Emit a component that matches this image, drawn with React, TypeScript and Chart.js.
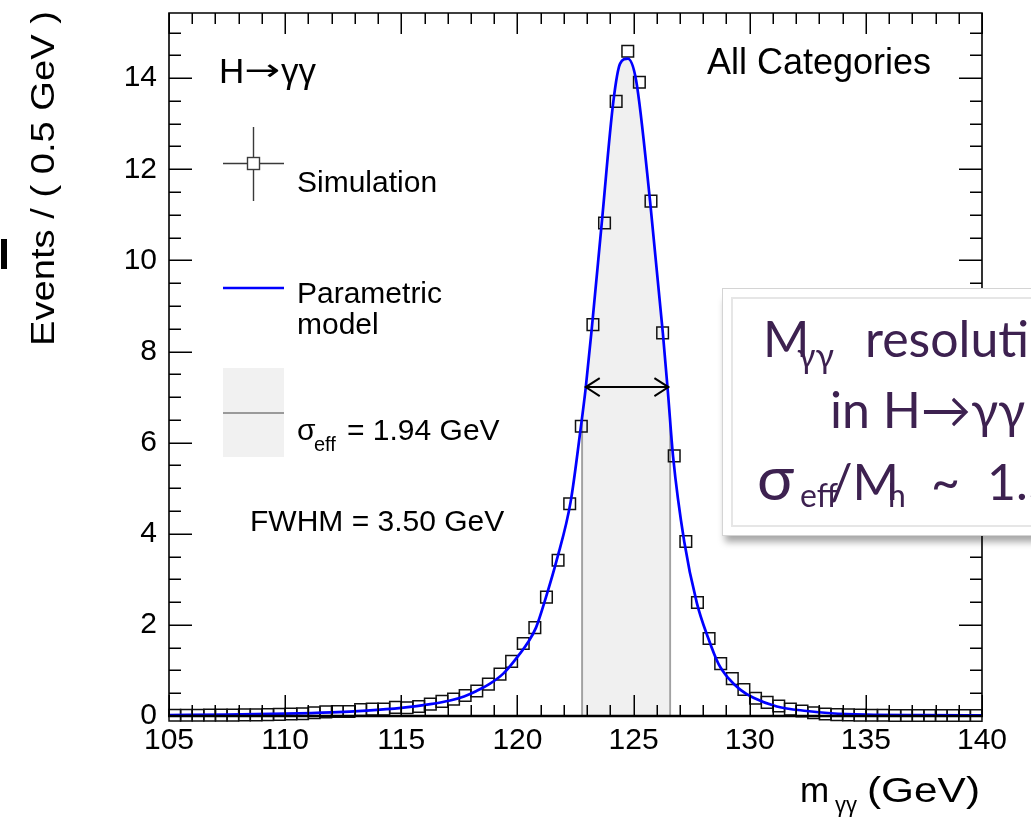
import { useEffect, useRef } from "react";
import { Chart, registerables } from "chart.js";

Chart.register(...registerables);

// ---- data ----
const binCenters = [
  105.25, 105.75, 106.25, 106.75, 107.25, 107.75, 108.25, 108.75, 109.25, 109.75,
  110.25, 110.75, 111.25, 111.75, 112.25, 112.75, 113.25, 113.75, 114.25, 114.75,
  115.25, 115.75, 116.25, 116.75, 117.25, 117.75, 118.25, 118.75, 119.25, 119.75,
  120.25, 120.75, 121.25, 121.75, 122.25, 122.75, 123.25, 123.75, 124.25, 124.75,
  125.25, 125.75, 126.25, 126.75, 127.25, 127.75, 128.25, 128.75, 129.25, 129.75,
  130.25, 130.75, 131.25, 131.75, 132.25, 132.75, 133.25, 133.75, 134.25, 134.75,
  135.25, 135.75, 136.25, 136.75, 137.25, 137.75, 138.25, 138.75, 139.25, 139.75,
];
const simValues = [
  0.015, 0.015, 0.015, 0.02, 0.02, 0.02, 0.025, 0.025, 0.03, 0.035,
  0.045, 0.05, 0.07, 0.09, 0.1, 0.1, 0.14, 0.15, 0.15, 0.19,
  0.18, 0.21, 0.26, 0.32, 0.37, 0.45, 0.55, 0.7, 0.92, 1.2,
  1.59, 1.94, 2.61, 3.42, 4.66, 6.36, 8.59, 10.82, 13.49, 14.59,
  13.91, 11.3, 8.41, 5.71, 3.83, 2.49, 1.7, 1.15, 0.82, 0.58,
  0.39, 0.3, 0.22, 0.15, 0.11, 0.07, 0.045, 0.03, 0.025, 0.02,
  0.015, 0.015, 0.01, 0.01, 0.01, 0.01, 0.01, 0.01, 0.01, 0.01,
];
const curveX = [
  105, 107.5, 110, 112, 113.5, 115, 116.25, 117.1, 117.7, 118.24, 118.82,
  119.39, 119.85, 120.42, 120.8, 121.23, 121.69, 122.29, 122.72, 122.94, 123.2,
  123.63, 124.13, 124.42, 124.75, 125.11, 125.71, 126.26, 126.48, 126.7, 127.18,
  127.72, 128.22, 128.65, 129.08, 129.59, 130.16, 131.17, 132.46, 133.5, 135,
  137.5, 140,
];
const curveY = [
  0.02, 0.03, 0.05, 0.08, 0.12, 0.18, 0.26, 0.34, 0.43, 0.55, 0.71,
  0.93, 1.2, 1.59, 1.94, 2.61, 3.42, 4.7, 6.3, 7.2, 8.5,
  10.82, 13.49, 14.32, 14.43, 13.95, 11.3, 8.41, 7.1, 5.7, 3.83,
  2.49, 1.7, 1.15, 0.83, 0.58, 0.4, 0.21, 0.11, 0.06, 0.03,
  0.02, 0.015,
];
const xTicks = [105, 110, 115, 120, 125, 130, 135, 140];
const yTicks = [0, 2, 4, 6, 8, 10, 12, 14];
const xRange = [105, 140];
const yRange = [0, 15.43];
const sigmaBand = [122.74, 126.62];
const fwhmX = [122.94, 126.5];
const fwhmY = 7.22;

const FONT = "'Liberation Sans', Arial, Helvetica, sans-serif";

const bandPlugin = {
  id: "sigmaBand",
  beforeDatasetsDraw(chart: any) {
    const { ctx, chartArea: a, scales } = chart;
    const meta = chart.getDatasetMeta(0);
    const line = meta.dataset;
    if (!line) return;
    line.updateControlPoints(a, "x");
    const xl = scales.x.getPixelForValue(sigmaBand[0]);
    const xr = scales.x.getPixelForValue(sigmaBand[1]);
    const pts = meta.data;
    ctx.save();
    ctx.beginPath();
    ctx.rect(xl, a.top, xr - xl, a.bottom - a.top);
    ctx.clip();
    ctx.beginPath();
    line.path(ctx);
    ctx.lineTo(pts[pts.length - 1].x, a.bottom);
    ctx.lineTo(pts[0].x, a.bottom);
    ctx.closePath();
    ctx.fillStyle = "#f0f0f0";
    ctx.fill();
    ctx.clip();
    ctx.strokeStyle = "#a2a2a2";
    ctx.lineWidth = 2;
    ctx.beginPath();
    ctx.moveTo(xl + 1, a.bottom);
    ctx.lineTo(xl + 1, a.top);
    ctx.moveTo(xr - 1, a.bottom);
    ctx.lineTo(xr - 1, a.top);
    ctx.stroke();
    ctx.restore();
  },
};

const framePlugin = {
  id: "rootFrame",
  afterDatasetsDraw(chart: any) {
    const { ctx, chartArea: a, scales } = chart;
    const xs = scales.x;
    const ys = scales.y;
    ctx.save();
    ctx.strokeStyle = "#000";
    ctx.lineWidth = 1.6;
    ctx.beginPath();
    ctx.moveTo(a.left, a.bottom);
    ctx.lineTo(a.left, a.top);
    ctx.lineTo(a.right, a.top);
    ctx.lineTo(a.right, a.bottom);
    ctx.stroke();
    ctx.lineWidth = 2.4;
    ctx.beginPath();
    ctx.moveTo(a.left - 1, a.bottom);
    ctx.lineTo(a.right + 1, a.bottom);
    ctx.stroke();
    ctx.lineWidth = 1.5;
    ctx.beginPath();
    for (let v = xRange[0]; v <= xRange[1] + 1e-9; v += 1) {
      const px = Math.round(xs.getPixelForValue(v)) + 0.25;
      const major = Math.abs(v % 5) < 1e-9;
      const len = major ? 21 : 11;
      ctx.moveTo(px, a.bottom);
      ctx.lineTo(px, a.bottom - len);
      ctx.moveTo(px, a.top);
      ctx.lineTo(px, a.top + len);
    }
    for (let v = yRange[0]; v <= yRange[1] + 1e-9; v += 0.5) {
      const py = Math.round(ys.getPixelForValue(v)) + 0.25;
      const major = Math.abs(v % 2) < 1e-9;
      const len = major ? 23 : 12;
      ctx.moveTo(a.left, py);
      ctx.lineTo(a.left + len, py);
      ctx.moveTo(a.right, py);
      ctx.lineTo(a.right - len, py);
    }
    ctx.stroke();

    // FWHM arrow
    const x1 = xs.getPixelForValue(fwhmX[0]);
    const x2 = xs.getPixelForValue(fwhmX[1]);
    const yy = ys.getPixelForValue(fwhmY);
    ctx.lineWidth = 2;
    ctx.beginPath();
    ctx.moveTo(x1, yy);
    ctx.lineTo(x2, yy);
    ctx.moveTo(x1 + 14, yy - 9);
    ctx.lineTo(x1, yy);
    ctx.lineTo(x1 + 14, yy + 9);
    ctx.moveTo(x2 - 14, yy - 9);
    ctx.lineTo(x2, yy);
    ctx.lineTo(x2 - 14, yy + 9);
    ctx.stroke();

    // legend markers
    ctx.strokeStyle = "#3a3a3a";
    ctx.lineWidth = 1.4;
    ctx.beginPath();
    ctx.moveTo(223, 163.5);
    ctx.lineTo(284, 163.5);
    ctx.moveTo(253.5, 127);
    ctx.lineTo(253.5, 201);
    ctx.stroke();
    ctx.fillStyle = "#fff";
    ctx.fillRect(247.5, 157.5, 12, 12);
    ctx.strokeRect(247.5, 157.5, 12, 12);
    ctx.strokeStyle = "#0000ff";
    ctx.lineWidth = 2.6;
    ctx.beginPath();
    ctx.moveTo(223, 288);
    ctx.lineTo(284, 288);
    ctx.stroke();
    ctx.fillStyle = "#f1f1f1";
    ctx.fillRect(223, 368, 61, 89);
    ctx.strokeStyle = "#9a9a9a";
    ctx.lineWidth = 2;
    ctx.beginPath();
    ctx.moveTo(223, 413);
    ctx.lineTo(284, 413);
    ctx.stroke();
    ctx.restore();
  },
};

export default function App() {
  const ref = useRef<HTMLCanvasElement>(null);
  useEffect(() => {
    if (!ref.current) return;
    const chart = new Chart(ref.current, {
      type: "scatter",
      data: {
        datasets: [
          {
            type: "line",
            label: "Parametric model",
            data: curveX.map((x, i) => ({ x, y: curveY[i] })),
            borderColor: "#0000ff",
            borderWidth: 2.7,
            pointRadius: 0,
            cubicInterpolationMode: "monotone",
            fill: false,
            order: 0,
          } as any,
          {
            label: "Simulation",
            data: binCenters.map((x, i) => ({ x, y: simValues[i] })),
            pointStyle: "rect",
            pointRadius: 8.2,
            borderColor: "#111",
            borderWidth: 1.5,
            backgroundColor: "rgba(0,0,0,0)",
            showLine: false,
            clip: false,
            order: 1,
          } as any,
        ],
      },
      options: {
        responsive: false,
        animation: false,
        events: [],
        layout: { padding: { top: 13, right: 49, left: 0, bottom: 0 } },
        plugins: { legend: { display: false }, tooltip: { enabled: false }, title: { display: false } },
        scales: {
          x: {
            type: "linear",
            min: xRange[0],
            max: xRange[1],
            grid: { display: false, drawTicks: false },
            border: { display: false },
            ticks: {
              font: { family: FONT, size: 30 },
              color: "#000",
              padding: 7,
              maxRotation: 0,
            },
            afterBuildTicks: (s: any) => {
              s.ticks = xTicks.map((v) => ({ value: v }));
            },
            afterFit: (s: any) => {
              s.height = 101;
              s.paddingLeft = 0;
              s.paddingRight = 0;
            },
          },
          y: {
            type: "linear",
            min: yRange[0],
            max: yRange[1],
            grid: { display: false, drawTicks: false },
            border: { display: false },
            ticks: {
              font: { family: FONT, size: 30 },
              color: "#000",
              padding: 12,
            },
            afterBuildTicks: (s: any) => {
              s.ticks = yTicks.map((v) => ({ value: v }));
            },
            afterFit: (s: any) => {
              s.width = 169;
              s.paddingTop = 0;
              s.paddingBottom = 0;
            },
          },
        },
      } as any,
      plugins: [bandPlugin, framePlugin],
    });
    return () => chart.destroy();
  }, []);

  const purple = "#3d2150";
  const boxFont = "Lato, 'Open Sans', 'Noto Sans', sans-serif";

  return (
    <div
      style={{
        position: "absolute",
        left: 0,
        top: 0,
        width: 1031,
        height: 817,
        overflow: "hidden",
        background: "#fff",
      }}
    >
      <canvas ref={ref} width={1031} height={817} style={{ position: "absolute", left: 0, top: 0 }} />
      <div style={{ position: "absolute", left: 1, top: 239, width: 6, height: 30, background: "#000" }} />
      <div
        style={{
          position: "absolute",
          left: 722,
          top: 288,
          width: 380,
          height: 248,
          background: "#fff",
          border: "1px solid #d4d4d4",
          boxSizing: "border-box",
          boxShadow: "0 9px 7px -3px rgba(0,0,0,0.35)",
        }}
      >
        <div
          style={{
            position: "absolute",
            left: 8,
            top: 8,
            right: 8,
            bottom: 8,
            border: "2px solid #e6e6e6",
          }}
        />
      </div>
      <svg
        width={1031}
        height={817}
        style={{ position: "absolute", left: 0, top: 0 }}
        fontFamily={FONT}
        fill="#000"
      >
        <text x={219} y={83} fontSize={35}>H</text>
        <text
          x={244}
          y={80}
          fontSize={30}
          fontFamily="'DejaVu Sans', sans-serif"
          textLength={36}
          lengthAdjust="spacingAndGlyphs"
        >
          →
        </text>
        <text x={281} y={83} fontSize={35}>γγ</text>
        <text x={707} y={74} fontSize={36}>All Categories</text>
        <text x={297} y={192} fontSize={30}>Simulation</text>
        <text x={297} y={303} fontSize={30}>Parametric</text>
        <text x={297} y={334} fontSize={30}>model</text>
        <text x={297} y={440} fontSize={30}>σ</text>
        <text x={314} y={451} fontSize={20}>eff</text>
        <text x={347} y={440} fontSize={30}>= 1.94 GeV</text>
        <text x={250} y={531} fontSize={30}>FWHM = 3.50 GeV</text>
        <text
          transform="translate(54,346) rotate(-90)"
          fontSize={33}
          textLength={335}
          lengthAdjust="spacingAndGlyphs"
        >
          Events / ( 0.5 GeV )
        </text>
        <text x={800} y={802} fontSize={35}>m</text>
        <text x={835} y={812} fontSize={22}>γγ</text>
        <text x={867} y={802} fontSize={35} textLength={113} lengthAdjust="spacingAndGlyphs">
          (GeV)
        </text>
        <g fill={purple} fontFamily={boxFont}>
          <text x={763} y={357} fontSize={50}>M</text>
          <text x={797} y={368} fontSize={34}>γγ</text>
          <text x={865} y={357} fontSize={50}>resolution</text>
          <text x={830} y={428} fontSize={50}>in H→γγ</text>
          <text x={757} y={500} fontSize={62}>σ</text>
          <text x={800} y={507} fontSize={32}>eff</text>
          <text x={830} y={500} fontSize={50}>/M</text>
          <text x={888} y={507} fontSize={32}>h</text>
          <text x={931} y={500} fontSize={50}>~</text>
          <text x={987} y={500} fontSize={50}>1.5%</text>
        </g>
      </svg>
    </div>
  );
}
